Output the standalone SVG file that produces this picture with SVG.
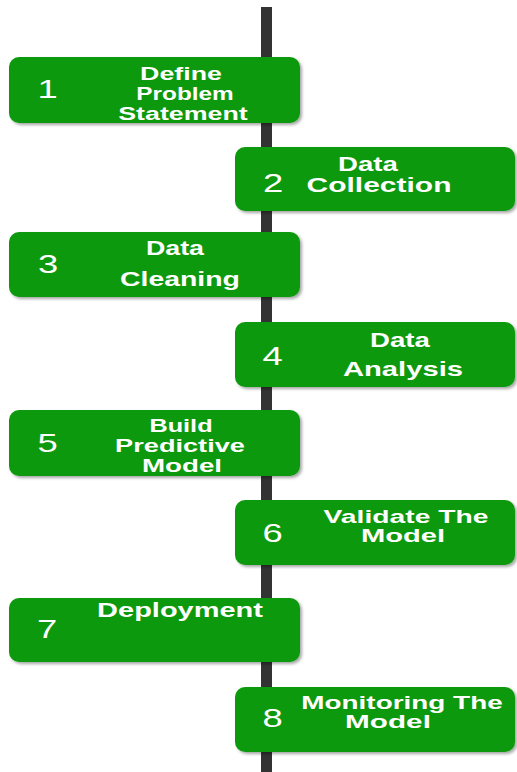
<svg xmlns="http://www.w3.org/2000/svg" width="517" height="772" viewBox="0 0 517 772">
<defs>
<filter id="sh" x="-5%" y="-10%" width="112%" height="130%">
<feDropShadow dx="2" dy="2" stdDeviation="1.5" flood-color="#000" flood-opacity="0.35"/>
</filter>
</defs>
<style>
.box{fill:#0a990a;filter:url(#sh)}
.lbl{font-family:"Liberation Sans",Arial,sans-serif;font-weight:bold;font-size:20px;fill:#fff;text-anchor:middle}
.sm{font-size:18px}
.md{font-size:19px}
.num{font-family:"Liberation Sans",Arial,sans-serif;font-size:26px;fill:#fff;text-anchor:middle}
</style>
<rect width="517" height="772" fill="#fff"/>
<g id="connectors">
<rect x="261" y="7" width="11" height="765" fill="#333"/>
</g>
<g id="step1">
<rect class="box" x="9" y="57" width="291" height="66" rx="10"/>
<text class="num" transform="translate(47.5,98) scale(1.4,1)">1</text>
<text class="lbl md" transform="translate(181,80) scale(1.41,1)">Define</text>
<text class="lbl md" transform="translate(185,100) scale(1.28,1)">Problem</text>
<text class="lbl md" transform="translate(183,120) scale(1.41,1)">Statement</text>
</g>
<g id="step2">
<rect class="box" x="235" y="147" width="280" height="64" rx="10"/>
<text class="num" transform="translate(273,192) scale(1.4,1)">2</text>
<text class="lbl" transform="translate(368,171) scale(1.38,1)">Data</text>
<text class="lbl" transform="translate(379,192) scale(1.5,1)">Collection</text>
</g>
<g id="step3">
<rect class="box" x="9" y="232" width="291" height="65" rx="10"/>
<text class="num" transform="translate(48,273) scale(1.4,1)">3</text>
<text class="lbl" transform="translate(175,255) scale(1.34,1)">Data</text>
<text class="lbl" transform="translate(180,286) scale(1.42,1)">Cleaning</text>
</g>
<g id="step4">
<rect class="box" x="235" y="322" width="280" height="65" rx="10"/>
<text class="num" transform="translate(272.5,365) scale(1.4,1)">4</text>
<text class="lbl" transform="translate(400,347) scale(1.38,1)">Data</text>
<text class="lbl" transform="translate(403,376) scale(1.46,1)">Analysis</text>
</g>
<g id="step5">
<rect class="box" x="9" y="410" width="291" height="66" rx="10"/>
<text class="num" transform="translate(47.5,452) scale(1.4,1)">5</text>
<text class="lbl md" transform="translate(181,432) scale(1.33,1)">Build</text>
<text class="lbl md" transform="translate(180,452) scale(1.43,1)">Predictive</text>
<text class="lbl md" transform="translate(182,472) scale(1.46,1)">Model</text>
</g>
<g id="step6">
<rect class="box" x="235" y="500" width="280" height="65" rx="10"/>
<text class="num" transform="translate(272.5,542) scale(1.4,1)">6</text>
<text class="lbl sm" transform="translate(406,523) scale(1.57,1)">Validate The</text>
<text class="lbl sm" transform="translate(403,542) scale(1.62,1)">Model</text>
</g>
<g id="step7">
<rect class="box" x="9" y="598" width="291" height="64" rx="10"/>
<text class="num" transform="translate(47,638) scale(1.4,1)">7</text>
<text class="lbl" transform="translate(180,617) scale(1.45,1)">Deployment</text>
</g>
<g id="step8">
<rect class="box" x="235" y="687" width="280" height="65" rx="10"/>
<text class="num" transform="translate(272.5,727) scale(1.4,1)">8</text>
<text class="lbl sm" transform="translate(402,709) scale(1.55,1)">Monitoring The</text>
<text class="lbl sm" transform="translate(388,728) scale(1.65,1)">Model</text>
</g>
</svg>
